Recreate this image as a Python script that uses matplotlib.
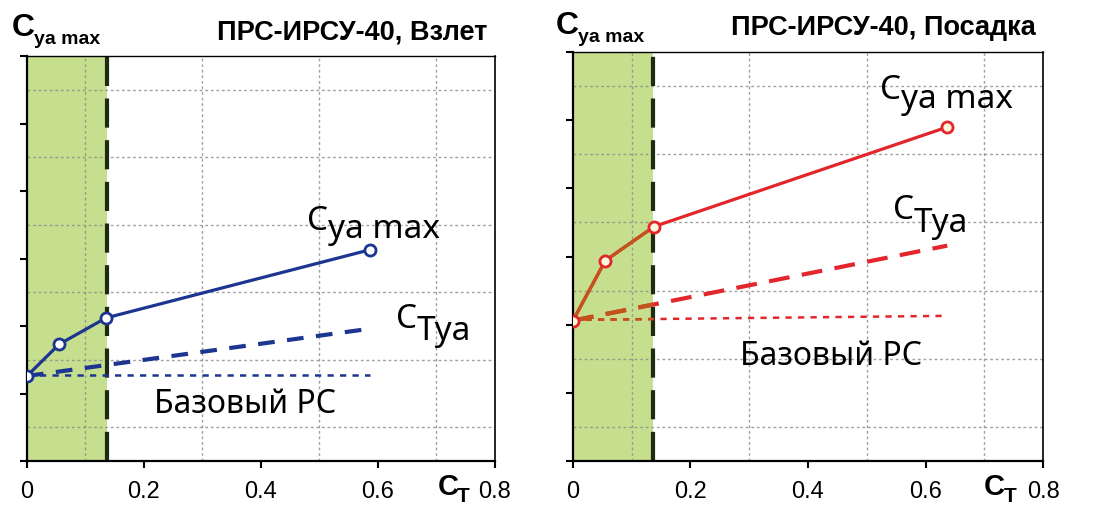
import numpy as np
import matplotlib
matplotlib.use('Agg')
import matplotlib.pyplot as plt
from matplotlib.transforms import offset_copy

# --- data (y axis has no scale: arbitrary units 0..6) ---
ct_takeoff = [0.0, 0.055, 0.135, 0.586]
cya_takeoff = [1.26, 1.73, 2.12, 3.13]
cty_takeoff_x = [0.0, 0.586]
cty_takeoff = [1.26, 1.96]
base_takeoff_x = [0.0, 0.586]
base_takeoff = [1.28, 1.28]

ct_landing = [0.0, 0.055, 0.138, 0.637]
cya_landing = [2.06, 2.94, 3.44, 4.90]
cty_landing_x = [0.0, 0.637]
cty_landing = [2.06, 3.16]
base_landing_x = [0.0, 0.637]
base_landing = [2.07, 2.13]

zone_edge = 0.137
xticks = [0, 0.2, 0.4, 0.6, 0.8]
xticklabels = ['0', '0.2', '0.4', '0.6', '0.8']
titles = ['ПРС-ИРСУ-40, Взлет', 'ПРС-ИРСУ-40, Посадка']

plt.rcParams['font.family'] = ['Liberation Sans', 'DejaVu Sans']
ann_font = ['Noto Sans', 'DejaVu Sans']

fig = plt.figure(figsize=(10.97, 5.06), dpi=100)
ax1 = fig.add_axes([0.0246, 0.087, 0.4266, 0.800])
ax2 = fig.add_axes([0.5223, 0.087, 0.4285, 0.808])


def setup(ax):
    ax.set_xlim(0, 0.8)
    ax.set_ylim(0, 6)
    ax.set_xticks(xticks)
    ax.set_xticklabels(xticklabels, fontsize=17)
    ax.set_yticks(range(0, 7))
    ax.set_yticklabels([])
    ax.set_xticks(np.arange(0, 0.81, 0.1), minor=True)
    ax.set_yticks(np.arange(0, 6.01, 0.5), minor=True)
    ax.tick_params(which='major', direction='out', length=5, width=1.5, pad=9)
    ax.tick_params(which='minor', length=0)
    ax.grid(which='minor', color='#8a8a8a', linestyle=(0, (2, 2)), linewidth=1.0, alpha=0.8)
    ax.set_axisbelow(True)
    for s in ax.spines.values():
        s.set_linewidth(1.6)
        s.set_color('black')
    ax.spines['top'].set_linewidth(1.0)
    ax.spines['right'].set_linewidth(1.2)
    zone = ax.axvspan(0, zone_edge, color='#c6df8e', zorder=0.5, lw=0)
    ax.axvline(zone_edge, color='#1e2a12', lw=3, dashes=(7, 3), zorder=2)
    return zone


def label(ax, x, y, main, sub, size, subsize, dx, dy, weight='normal', family=None, transform=None):
    family = family or ann_font
    tr = transform if transform is not None else ax.transData
    ax.text(x, y, main, fontsize=size, fontweight=weight, family=family,
            transform=tr, va='baseline', ha='left')
    t2 = offset_copy(tr, fig=fig, x=dx, y=dy, units='points')
    ax.text(x, y, sub, fontsize=subsize, fontweight=weight, family=family,
            transform=t2, va='baseline', ha='left')


# ---- take-off panel ----
setup(ax1)
blue = '#1c3590'
ax1.plot(cty_takeoff_x, cty_takeoff, color=blue, lw=3, dashes=(4, 3), zorder=3)
ax1.plot(base_takeoff_x, base_takeoff, color=blue, lw=1.8, dashes=(2.5, 2.5), zorder=3)
ax1.plot(ct_takeoff, cya_takeoff, color=blue, lw=2.3, marker='o', ms=8,
         mfc='white', mec=blue, mew=2, zorder=4)
label(ax1, 0.479, 3.44, 'C', 'ya max', 24, 24, 15, -6)
label(ax1, 0.631, 1.99, 'C', 'Tya', 24, 24, 15, -9)
ax1.text(0.217, 0.72, 'Базовый РС', fontsize=23, family=ann_font, va='baseline')

# ---- landing panel ----
zone2 = setup(ax2)
red = '#e3262b'
brown = '#c2531d'
for col, clip in [(red, False), (brown, True)]:
    lines = []
    lines += ax2.plot(cty_landing_x, cty_landing, color=col, lw=3, dashes=(5, 3), zorder=3)
    lines += ax2.plot(base_landing_x, base_landing, color=col, lw=1.8, dashes=(2.5, 2.5), zorder=3)
    lines += ax2.plot(ct_landing, cya_landing, color=col, lw=2.3, zorder=4)
    if clip:
        for ln in lines:
            ln.set_clip_path(zone2)
ax2.plot(ct_landing, cya_landing, ls='none', marker='o', ms=8,
         mfc='#fbf6dc', mec=red, mew=2, zorder=5)
label(ax2, 0.523, 5.32, 'C', 'ya max', 24, 24, 15, -6)
label(ax2, 0.545, 3.56, 'C', 'Tya', 24, 24, 15, -9)
ax2.text(0.284, 1.43, 'Базовый РС', fontsize=23, family=ann_font, va='baseline')

# ---- titles and axis labels ----
fig.text(0.444, 0.921, titles[0], fontsize=19.5, fontweight='bold', ha='right', va='baseline')
fig.text(0.944, 0.931, titles[1], fontsize=19.5, fontweight='bold', ha='right', va='baseline')

bold_font = ['Liberation Sans', 'DejaVu Sans']
for x0, yb in [(0.011, 0.929), (0.507, 0.933)]:
    label(fig, x0, yb, 'C', 'ya max', 23, 14, 16, -6, weight='bold',
          family=bold_font, transform=fig.transFigure)
for x0 in [0.399, 0.897]:
    label(fig, x0, 0.022, 'C', 'T', 21, 15, 14, -5, weight='bold',
          family=bold_font, transform=fig.transFigure)

fig.savefig('out.png', dpi=100, facecolor='white')
